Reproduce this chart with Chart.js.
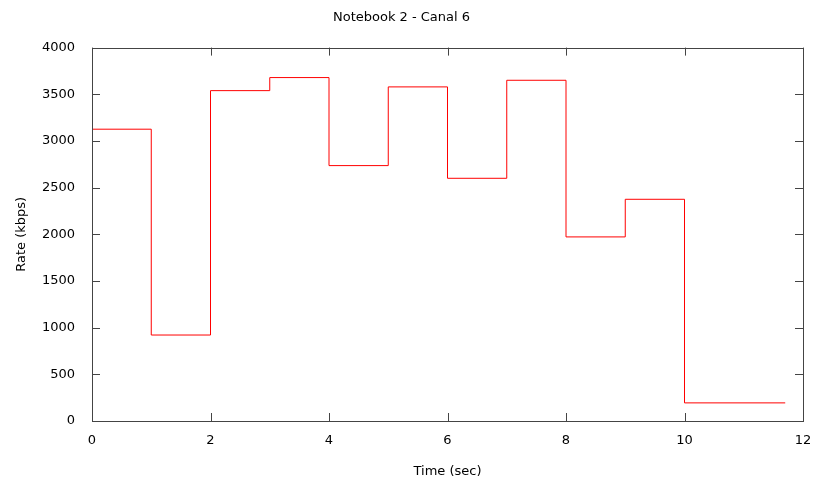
<!DOCTYPE html>
<html>
<head>
<meta charset="utf-8">
<script src="https://cdn.jsdelivr.net/npm/chart.js@4/dist/chart.umd.min.js"></script>
<style>
  body { margin: 0; background: #fff; }
  #wrap { width: 819px; height: 486px; }
</style>
</head>
<body>
<div id="wrap"><canvas id="grafico"></canvas></div>
<script>
// tempo (s) e taxa (kbps) de cada degrau
const tempos = [0, 1, 2, 3, 4, 5, 6, 7, 8, 9, 10, 11.7];
const taxas = [3126, 921, 3539, 3679, 2736, 3579, 2600, 3650, 1972, 2375, 194, 194];
const ticksX = [0, 2, 4, 6, 8, 10, 12];
const ticksY = [0, 500, 1000, 1500, 2000, 2500, 3000, 3500, 4000];

const pontos = tempos.map((t, i) => ({ x: t, y: taxas[i] }));

// moldura e marcas para dentro, estilo gnuplot
const moldura = {
  id: 'moldura',
  afterDraw(chart) {
    const ctx = chart.ctx;
    const a = chart.chartArea;
    const sx = chart.scales.x, sy = chart.scales.y;
    ctx.save();
    ctx.strokeStyle = '#444';
    ctx.lineWidth = 1;
    ctx.strokeRect(Math.round(a.left) + 0.5, Math.round(a.top) + 0.5,
      Math.round(a.right - a.left), Math.round(a.bottom - a.top));
    ctx.beginPath();
    ticksX.forEach(v => {
      const px = Math.round(sx.getPixelForValue(v)) + 0.5;
      ctx.moveTo(px, a.bottom); ctx.lineTo(px, a.bottom - 8);
      ctx.moveTo(px, a.top); ctx.lineTo(px, a.top + 8);
    });
    ticksY.forEach(v => {
      const py = Math.round(sy.getPixelForValue(v)) + 0.5;
      ctx.moveTo(a.left, py); ctx.lineTo(a.left + 8, py);
      ctx.moveTo(a.right, py); ctx.lineTo(a.right - 8, py);
    });
    ctx.stroke();
    ctx.restore();
  }
};

const fonte = { family: 'DejaVu Sans', size: 13 };

new Chart(document.getElementById('grafico'), {
  type: 'line',
  data: {
    datasets: [{
      data: pontos,
      stepped: 'before',
      borderColor: 'rgb(255, 0, 0)',
      borderWidth: 1,
      pointRadius: 0,
      fill: false
    }]
  },
  options: {
    responsive: true,
    maintainAspectRatio: false,
    animation: false,
    layout: { padding: { left: 0, right: 16, top: 0, bottom: 0 } },
    plugins: {
      legend: { display: false },
      tooltip: { enabled: false },
      title: {
        display: true,
        text: 'Notebook 2 - Canal 6',
        color: '#000',
        font: { ...fonte, weight: 'normal' },
        padding: { top: 10, bottom: 22 }
      }
    },
    scales: {
      x: {
        type: 'linear',
        min: 0,
        max: 12,
        afterBuildTicks: s => { s.ticks = ticksX.map(v => ({ value: v })); },
        afterFit: s => { s.height = 65; },
        grid: { display: false },
        border: { display: false },
        ticks: { color: '#000', font: fonte, padding: 4, callback: v => String(v) },
        title: { display: true, text: 'Time (sec)', color: '#000', font: fonte, padding: { top: 4, bottom: 7 } }
      },
      y: {
        min: 0,
        max: 4000,
        afterBuildTicks: s => { s.ticks = ticksY.map(v => ({ value: v })); },
        afterFit: s => { s.width = 92; },
        grid: { display: false },
        border: { display: false },
        ticks: { color: '#000', font: fonte, padding: 9, callback: v => String(v) },
        title: { display: true, text: 'Rate (kbps)', color: '#000', font: fonte, padding: { top: 14, bottom: 4 } }
      }
    }
  },
  plugins: [moldura]
});
</script>
</body>
</html>
